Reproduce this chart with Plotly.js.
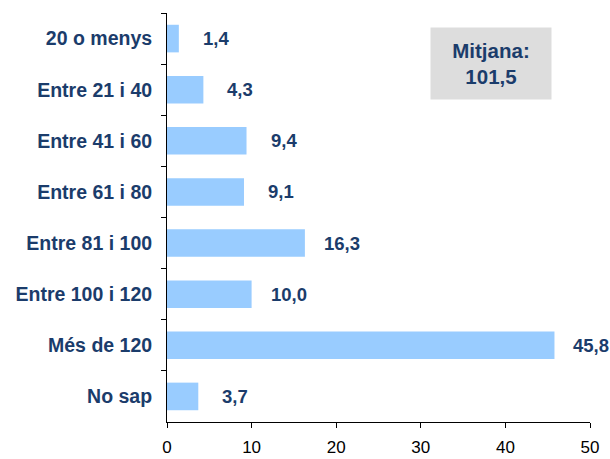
<!DOCTYPE html>
<html>
<head>
<meta charset="utf-8">
<script src="https://cdn.plot.ly/plotly-3.0.1.min.js"></script>
<style>html,body{margin:0;padding:0;background:#fff;}</style>
</head>
<body>
<div id="chart" style="width:610px;height:459px;"></div>
<script>
const categories = ["20 o menys", "Entre 21 i 40", "Entre 41 i 60", "Entre 61 i 80", "Entre 81 i 100", "Entre 100 i 120", "Més de 120", "No sap"];
const values = [1.4, 4.3, 9.4, 9.1, 16.3, 10.0, 45.8, 3.7];
const valueLabels = ["1,4", "4,3", "9,4", "9,1", "16,3", "10,0", "45,8", "3,7"];
const xTicks = [0, 10, 20, 30, 40, 50];
const meanLabel = "Mitjana:<br>101,5";

const navy = "#1b3c6b";
const fam = "Liberation Sans, Arial, sans-serif";
const catFont = {family: fam, size: 19.5, color: navy, weight: "bold"};
const valFont = {family: fam, size: 18.5, color: navy, weight: "bold"};
const boxFont = {family: fam, size: 20.5, color: navy, weight: "bold"};

const annotations = values.map((v, i) => ({
  x: v, y: categories[i], xref: "x", yref: "y",
  text: "<b>" + valueLabels[i] + "</b>", showarrow: false,
  xanchor: "center", xshift: 37, font: valFont
}));
annotations.push({
  xref: "paper", yref: "paper", x: (491 - 167) / 423, y: 1 - (63.5 - 13) / 409,
  xanchor: "center", yanchor: "middle",
  text: "<b>" + meanLabel + "</b>", showarrow: false,
  bgcolor: "#dddddd", width: 118, height: 69, font: boxFont, align: "center"
});

Plotly.newPlot("chart", [{
  type: "bar", orientation: "h",
  x: values, y: categories,
  marker: {color: "#99ccff"},
  width: 0.54, hoverinfo: "none"
}], {
  width: 610, height: 459,
  margin: {l: 167, r: 20, t: 13, b: 37},
  paper_bgcolor: "#fff", plot_bgcolor: "#fff",
  showlegend: false,
  xaxis: {
    range: [0, 50], tickvals: xTicks, ticktext: xTicks.map(String),
    showgrid: false, zeroline: false,
    showline: true, linecolor: "#000", linewidth: 1,
    ticks: "outside", ticklen: 5, tickcolor: "#000",
    ticklabelstandoff: 5,
    tickfont: {family: fam, size: 17, color: "#000"}
  },
  yaxis: {
    autorange: "reversed", type: "category",
    showgrid: false, zeroline: false,
    showline: true, linecolor: "#000", linewidth: 1,
    ticks: "outside", ticklen: 5, tickcolor: "#000", tickson: "boundaries",
    ticklabelstandoff: 10,
    tickfont: catFont
  },
  annotations: annotations
}, {displayModeBar: false, staticPlot: true});
</script>
</body>
</html>
